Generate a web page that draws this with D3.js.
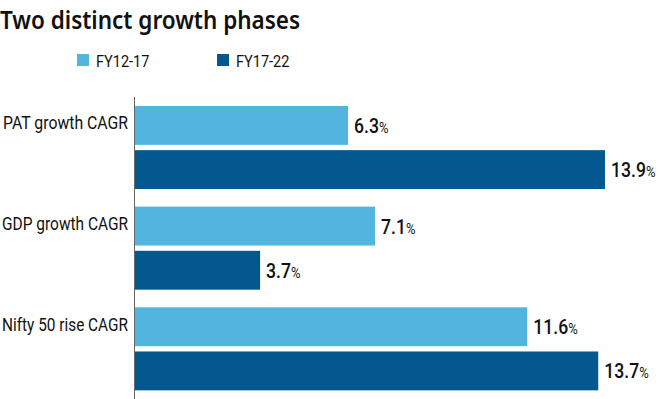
<!DOCTYPE html>
<html><head><meta charset="utf-8">
<script src="https://cdn.jsdelivr.net/npm/d3@7"></script>
<style>body{margin:0;background:#fff}svg{display:block}</style>
</head><body>
<script>
const categories = ["PAT growth CAGR", "GDP growth CAGR", "Nifty 50 rise CAGR"];
const seriesNames = ["FY12-17", "FY17-22"];
const fy12_17 = [6.3, 7.1, 11.6];
const fy17_22 = [13.9, 3.7, 13.7];
const colors = ["#52b5dd", "#03588f"];
const title = "Two distinct growth phases";

const W = 660, H = 399;
const svg = d3.select("body").append("svg").attr("width", W).attr("height", H);
const font = "Roboto, sans-serif";

// condensed text helper: horizontally squeezed text
function ctext(parent, xPos, yPos, sx, anchor) {
  return parent.append("g").attr("transform", `translate(${xPos},${yPos}) scale(${sx},1)`)
    .append("text").attr("text-anchor", anchor || "start").attr("font-family", font).attr("fill", "#111");
}

ctext(svg, 0, 29, 0.9).attr("font-family", "'Noto Sans', sans-serif").attr("font-weight", 600)
  .attr("font-size", 25).text(title);

// legend
const legX = [77, 217];
seriesNames.forEach((s, i) => {
  svg.append("rect").attr("x", legX[i]).attr("y", 54).attr("width", 12).attr("height", 12).attr("fill", colors[i]);
  ctext(svg, legX[i] + 19, 66.5, 0.88).attr("font-size", 16.5).text(s);
});

const x0 = 135;
const x = d3.scaleLinear().domain([0, 13.9]).range([x0, 605]);
const y = d3.scaleBand().domain(categories).range([97, 399]).paddingInner(0).paddingOuter(0);
const sub = d3.scaleBand().domain([0, 1]).range([9, 92]).paddingInner(0.12);

const data = categories.map((c, i) => ({c, vals: [fy12_17[i], fy17_22[i]]}));

const g = svg.selectAll("g.cat").data(data).join("g").attr("class", "cat")
  .attr("transform", d => `translate(0,${y(d.c)})`);

g.each(function(d) {
  const gg = d3.select(this);
  d.vals.forEach((v, j) => {
    gg.append("rect").attr("x", x(0)).attr("y", sub(j)).attr("width", x(v) - x(0))
      .attr("height", sub.bandwidth()).attr("fill", colors[j]);
    const t = ctext(gg, x(v) + 6, sub(j) + sub.bandwidth() / 2 + 7.5, 0.84);
    t.append("tspan").attr("font-size", 21).attr("font-weight", 500).text(v.toFixed(1));
    t.append("tspan").attr("font-size", 15.5).text("%");
  });
  const lbl = ctext(gg, 128, sub(0) + sub.bandwidth() / 2 + 4, 1, "end")
    .attr("font-size", 17.5).text(d.c);
  const len = lbl.node().getComputedTextLength();
  const target = d.c.length > 16 ? 126 : (d.c.startsWith("PAT") ? 125 : 126);
  d3.select(lbl.node().parentNode).attr("transform",
    `translate(128,${sub(0) + sub.bandwidth() / 2 + 4}) scale(${Math.min(1, target / len)},1)`);
});

svg.append("line").attr("x1", x0 - 0.5).attr("x2", x0 - 0.5).attr("y1", 97).attr("y2", H)
  .attr("stroke", "#666").attr("stroke-width", 1);
</script>
</body></html>
